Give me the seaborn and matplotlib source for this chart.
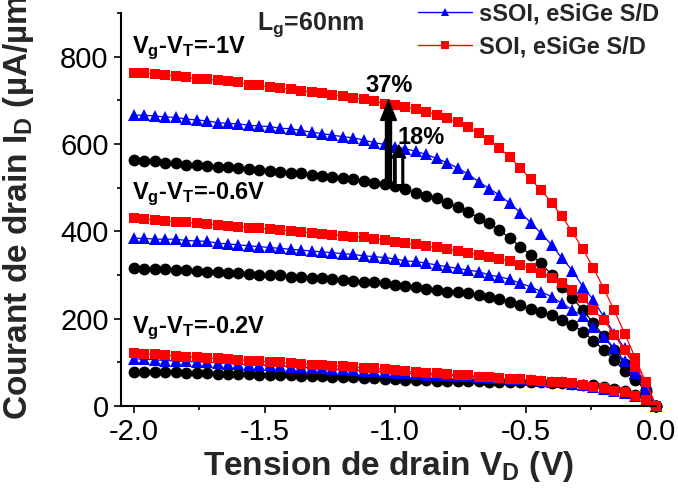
import numpy as np
import pandas as pd
import matplotlib
matplotlib.use("Agg")
import matplotlib.pyplot as plt
import seaborn as sns
from matplotlib.lines import Line2D
from matplotlib.patches import FancyArrow
from matplotlib.ticker import MultipleLocator

# ---------------- data ----------------
VD = np.linspace(-2.0, 0.0, 51)          # drain voltage sweep (V)

# Vg-VT = -1 V
ref_1V = [563, 562, 560, 557, 556, 553, 552, 550, 548, 547, 544, 543, 540, 539, 537, 534, 533, 529, 527, 525, 521, 519, 515, 511, 508, 504,
          496, 487, 482, 476, 466, 455, 444, 431, 418, 403, 384, 365, 346, 327, 300, 273, 247, 220, 190, 160, 128, 97, 65, 32, 0]
sSOI_1V = [666, 666, 664, 662, 661, 657, 655, 653, 649, 647, 646, 643, 641, 640, 636, 635, 631, 627, 624, 620, 617, 614, 609, 603, 599, 594,
           589, 583, 576, 567, 557, 545, 531, 514, 498, 483, 464, 443, 420, 395, 369, 338, 310, 273, 243, 204, 166, 132, 90, 48, 0]
SOI_1V = [762, 762, 761, 758, 756, 753, 749, 748, 746, 744, 741, 736, 734, 730, 728, 725, 722, 719, 716, 713, 709, 705, 702, 698, 692, 689,
          685, 680, 674, 667, 659, 650, 638, 625, 609, 591, 570, 545, 519, 494, 466, 434, 398, 359, 316, 269, 219, 166, 111, 55, 0]

# Vg-VT = -0.6 V
ref_06V = [315, 314, 314, 313, 311, 311, 309, 308, 308, 305, 304, 302, 301, 300, 299, 296, 295, 294, 292, 290, 289, 287, 285, 283, 281, 278,
           275, 272, 269, 266, 262, 260, 258, 254, 250, 244, 239, 231, 221, 216, 208, 198, 186, 170, 150, 128, 105, 81, 60, 37, 0]
sSOI_06V = [384, 384, 382, 382, 382, 379, 378, 377, 373, 371, 369, 367, 365, 363, 361, 359, 357, 355, 353, 351, 349, 347, 344, 342, 340, 337,
            332, 331, 327, 323, 319, 315, 311, 308, 300, 296, 290, 281, 273, 262, 250, 235, 220, 205, 182, 159, 132, 102, 75, 37, 0]
SOI_06V = [430, 428, 426, 424, 422, 421, 418, 417, 415, 413, 411, 408, 407, 405, 403, 401, 398, 397, 395, 392, 390, 388, 386, 383, 380, 376,
           373, 370, 366, 363, 359, 355, 351, 346, 342, 337, 331, 323, 315, 305, 294, 282, 266, 247, 220, 197, 163, 128, 89, 56, 0]

# Vg-VT = -0.2 V
ref_02V = [79, 78, 78, 77, 77, 76, 76, 75, 74, 74, 73, 73, 72, 71, 71, 70, 69, 69, 68, 67, 66, 66, 65, 64, 62, 61,
           60, 60, 59, 58, 58, 57, 57, 57, 56, 56, 56, 55, 55, 54, 53, 52, 51, 49, 47, 44, 39, 34, 26, 14, 0]
sSOI_02V = [108, 107, 106, 104, 103, 102, 101, 100, 99, 97, 96, 95, 94, 93, 92, 90, 89, 88, 87, 85, 84, 83, 81, 80, 78, 76,
            75, 74, 72, 71, 70, 69, 68, 66, 65, 63, 62, 61, 59, 57, 56, 54, 51, 48, 44, 40, 35, 30, 23, 13, 0]
SOI_02V = [121, 119, 118, 116, 115, 113, 112, 110, 109, 107, 106, 104, 103, 101, 100, 98, 97, 95, 94, 92, 91, 89, 88, 86, 84, 82,
           80, 77, 76, 75, 73, 72, 71, 67, 66, 63, 62, 61, 60, 57, 56, 54, 52, 48, 44, 41, 35, 31, 23, 14, 0]

devices = ["ref", "sSOI", "SOI"]
legend_labels = {"sSOI": "sSOI, eSiGe S/D", "SOI": "SOI, eSiGe S/D"}
level_labels = ["V$_g$-V$_T$=-1V", "V$_g$-V$_T$=-0.6V", "V$_g$-V$_T$=-0.2V"]

series = {
    ("ref", "-1V"): ref_1V, ("sSOI", "-1V"): sSOI_1V, ("SOI", "-1V"): SOI_1V,
    ("ref", "-0.6V"): ref_06V, ("sSOI", "-0.6V"): sSOI_06V, ("SOI", "-0.6V"): SOI_06V,
    ("ref", "-0.2V"): ref_02V, ("sSOI", "-0.2V"): sSOI_02V, ("SOI", "-0.2V"): SOI_02V,
}
rows = []
for (dev, lvl), vals in series.items():
    for v, i in zip(VD, vals):
        rows.append({"device": dev, "level": lvl, "VD": v, "ID": i})
df = pd.DataFrame(rows)

# ---------------- style ----------------
sns.set_theme(style="ticks")
plt.rcParams["font.family"] = ["Liberation Sans", "DejaVu Sans"]
plt.rcParams["mathtext.fontset"] = "custom"
plt.rcParams["mathtext.rm"] = "Liberation Sans:bold"
plt.rcParams["mathtext.it"] = "Liberation Sans:bold"
plt.rcParams["mathtext.bf"] = "Liberation Sans:bold"
plt.rcParams["axes.unicode_minus"] = False

colors = {"ref": "#000000", "sSOI": "#0000FF", "SOI": "#FF0000"}
markers = {"ref": "o", "sSOI": "^", "SOI": "s"}
msizes = {"ref": 8.5, "sSOI": 9.0, "SOI": 7.8}

fig = plt.figure(figsize=(6.78, 4.93), dpi=100)
ax = fig.add_axes([121 / 678, 1 - 406 / 493, 535 / 678, 393 / 493])

for dev in devices:
    sub = df[df["device"] == dev]
    sns.lineplot(data=sub, x="VD", y="ID", units="level", estimator=None, sort=False,
                 color=colors[dev], marker=markers[dev], markersize=msizes[dev],
                 markeredgewidth=0, linewidth=0.9, clip_on=False, ax=ax, legend=False)

ax.set_xlim(-2.05, 0.0)
ax.set_ylim(0, 900)
ax.xaxis.set_major_locator(MultipleLocator(0.5))
ax.xaxis.set_minor_locator(MultipleLocator(0.25))
ax.yaxis.set_major_locator(MultipleLocator(200))
ax.yaxis.set_minor_locator(MultipleLocator(100))
ax.xaxis.set_major_formatter(plt.FuncFormatter(lambda v, p: f"{v:.1f}"))
ax.yaxis.set_major_formatter(plt.FuncFormatter(lambda v, p: f"{v:.0f}"))

for s in ["top", "right"]:
    ax.spines[s].set_visible(False)
for s in ["left", "bottom"]:
    ax.spines[s].set_linewidth(1.5)
    ax.spines[s].set_color("black")
ax.tick_params(axis="both", which="major", direction="out", length=5, width=1.2,
               labelsize=21, color="black", labelcolor="black", pad=4)
ax.tick_params(axis="both", which="minor", direction="out", length=3, width=1.2, color="black")

ax.set_xlabel("Tension de drain V$_D$ (V)", fontsize=24, fontweight="bold", labelpad=2)
ax.set_ylabel("Courant de drain I$_D$ (µA/µm)", fontsize=24, fontweight="bold")
ax.yaxis.set_label_coords(-0.158, 0.52)

# annotations
txt = dict(fontsize=17, fontweight="bold", color="black", va="baseline", ha="left")
ax.text(-1.53, 861, "L$_g$=60nm", fontsize=18, fontweight="bold", va="baseline", ha="left")
ax.text(-2.008, 808, level_labels[0], **txt)
ax.text(-2.008, 474, level_labels[1], **txt)
ax.text(-2.008, 167, level_labels[2], **txt)
ax.text(-1.115, 720, "37%", **txt)
ax.text(-0.989, 601, "18%", **txt)

arrow_base = 505
ax.add_patch(FancyArrow(-1.025, arrow_base, 0, 700 - arrow_base, width=0.023, head_width=0.061,
                        head_length=46, length_includes_head=True, color="black", zorder=5))
ax.add_patch(FancyArrow(-0.986, arrow_base, 0, 598 - arrow_base, width=0.038, head_width=0.054,
                        head_length=30, length_includes_head=True, color="black", zorder=5))
ax.plot([-0.986, -0.986], [arrow_base + 4, 598 - 30], color="white", lw=3.2, zorder=6,
        solid_capstyle="butt")

# legend
handles = [Line2D([0], [0], color=colors[d], marker=markers[d], markersize=6, markeredgewidth=0,
                  linewidth=1.0, label=legend_labels[d]) for d in ["sSOI", "SOI"]]
fig.legend(handles=handles, loc="upper left", bbox_to_anchor=(418 / 678, 1 - 2 / 493),
           frameon=False, borderpad=0, borderaxespad=0, handlelength=2.3, handletextpad=0.3,
           labelspacing=0.45, prop={"size": 17, "weight": "bold"})

fig.savefig("out.png", dpi=100)
